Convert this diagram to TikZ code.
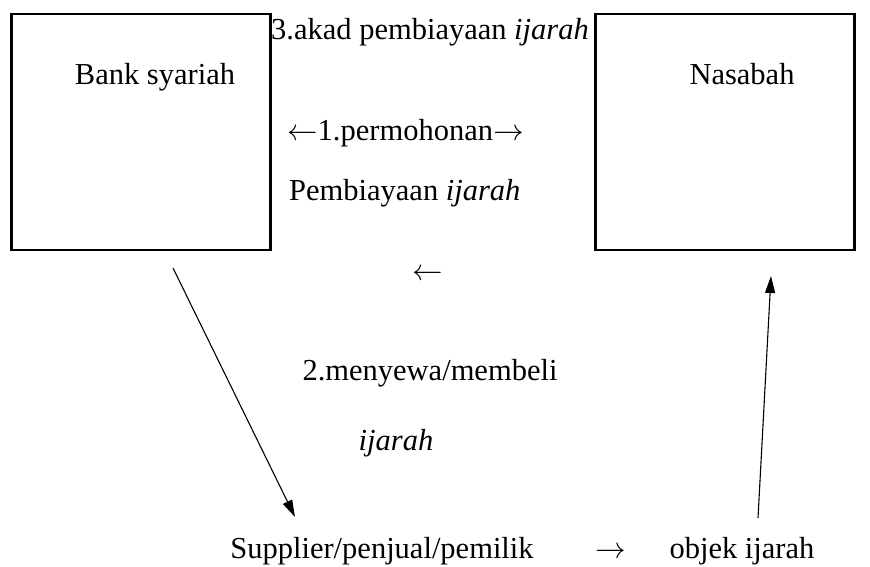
\documentclass[tikz,border=0pt]{standalone}
\usepackage{fontspec}
\setmainfont{Liberation Serif}
\newfontfamily\arrf{Latin Modern Math}
\usetikzlibrary{arrows.meta}
\begin{document}
\begin{tikzpicture}[x=1pt,y=-1pt,
  box/.style={draw,line width=2.6pt,minimum width=259pt,minimum height=236pt,inner sep=0pt},
  lbl/.style={inner sep=0pt,anchor=base,font=\fontsize{30.5}{36}\selectfont},
  conn/.style={line width=1.1pt,-{Triangle[length=17pt,width=10pt]}}]
\useasboundingbox (0,0) rectangle (870,566);
\node[box] (bank) at (141,132) {};
\node[box] (nas) at (725,132) {};
\node[lbl] (banktxt) at (155,84) {Bank syariah};
\node[lbl] (nastxt) at (742,84) {Nasabah};
\node[lbl] (akad) at (430,39) {3.akad pembiayaan \textit{ijarah}};
\node[lbl,anchor=base west] (perm) at (287,140) {{\arrf ←}1.permohonan{\arrf →}};
\node[lbl,anchor=base west] (pemb) at (289,200) {Pembiayaan \textit{ijarah}};
\node[lbl] (larr) at (428,280) {{\arrf ←}};
\node[lbl] (meny) at (430,380) {2.menyewa/membeli};
\node[lbl] (ij) at (396,450) {\textit{ijarah}};
\node[lbl] (supp) at (382,558) {Supplier/penjual/pemilik};
\node[lbl] (rarr) at (611,558) {{\arrf →}};
\node[lbl] (obj) at (742,558) {objek ijarah};
\coordinate (s1) at (173,268);
\coordinate (e1) at (295,517);
\coordinate (s2) at (758,518);
\coordinate (e2) at (771,276);
\draw[conn] (s1) -- (e1);
\draw[conn] (s2) -- (e2);
\end{tikzpicture}
\end{document}
